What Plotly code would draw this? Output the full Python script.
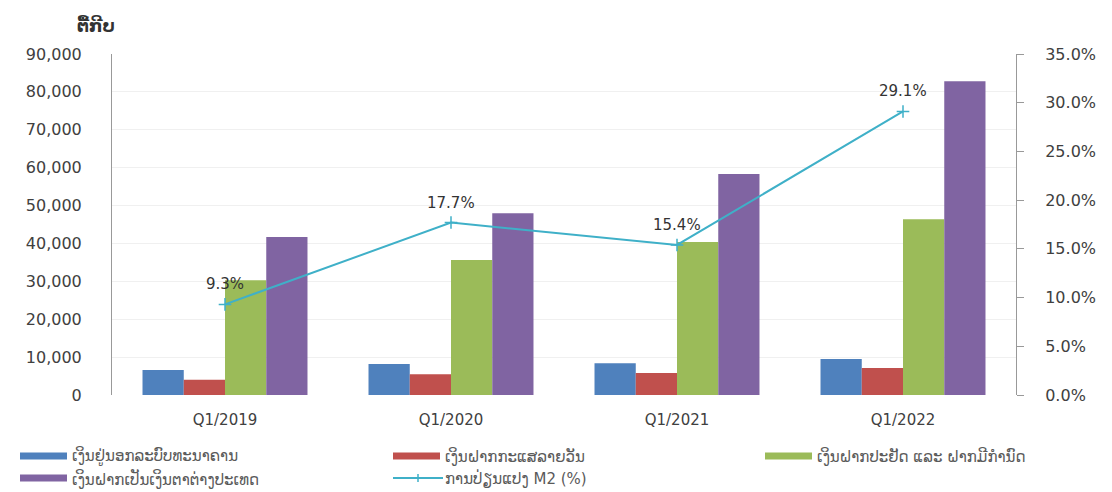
import plotly.graph_objects as go

categories = ["Q1/2019", "Q1/2020", "Q1/2021", "Q1/2022"]
currency_outside = [6600, 8200, 8400, 9500]
demand_deposits = [4000, 5500, 5800, 7100]
savings_time = [30300, 35600, 40400, 46400]
foreign_currency = [41700, 48000, 58300, 82800]
m2_growth = [9.3, 17.7, 15.4, 29.1]

names = [
    "ເງິນຢູ່ນອກລະບົບທະນາຄານ",
    "ເງິນຝາກກະແສລາຍວັນ",
    "ເງິນຝາກປະຢັດ ແລະ ຝາກມີກຳນົດ",
    "ເງິນຝາກເປັນເງິນຕາຕ່າງປະເທດ",
    "ການປ່ຽນແປງ M2 (%)",
]
colors = ["#4F81BD", "#C0504D", "#9BBB59", "#8064A2", "#3FB0C8"]
left_ticks = [0, 10000, 20000, 30000, 40000, 50000, 60000, 70000, 80000, 90000]
right_ticks = [0, 5, 10, 15, 20, 25, 30, 35]
unit_title = "ຕື້ກີບ"

FONT = "DejaVu Sans"
W, H = 1112, 492
ML, MR, MT, MB = 112, 96, 54, 97
PW, PH = W - ML - MR, H - MT - MB


def px_x(px):
    return (px - ML) / PW


def px_y(py):
    return (H - MB - py) / PH


fig = go.Figure()
for vals, name, col in zip([currency_outside, demand_deposits, savings_time, foreign_currency], names[:4], colors[:4]):
    fig.add_trace(go.Bar(x=categories, y=vals, name=name, marker=dict(color=col, line=dict(width=0)),
                         showlegend=False))

fig.add_trace(go.Scatter(
    x=categories, y=m2_growth, name=names[4], yaxis="y2", mode="lines+markers",
    line=dict(color=colors[4], width=2),
    marker=dict(symbol="cross-thin", size=9, line=dict(color=colors[4], width=1.5)),
    showlegend=False,
))

for c, v in zip(categories, m2_growth):
    fig.add_annotation(x=c, y=v, yref="y2", text=f"{v:.1f}%", showarrow=False,
                       yshift=20, font=dict(family=FONT, size=15, color="#333333"))

fig.add_annotation(xref="paper", yref="paper", x=px_x(75), y=px_y(13), text=f"<b>{unit_title}</b>",
                   showarrow=False, font=dict(family=FONT, size=17, color="#333333"))

# legend drawn as swatches + labels (two rows, three columns)
leg_pos = [(20, 456), (393, 456), (765, 456), (20, 478), (393, 478)]
shapes = []
for i, ((lx, ly), name, col) in enumerate(zip(leg_pos, names, colors)):
    if i < 4:
        shapes.append(dict(type="rect", xref="paper", yref="paper",
                           x0=px_x(lx), x1=px_x(lx + 47), y0=px_y(ly + 3.5), y1=px_y(ly - 3.5),
                           fillcolor=col, line=dict(width=0), layer="above"))
    else:
        shapes.append(dict(type="line", xref="paper", yref="paper",
                           x0=px_x(lx), x1=px_x(lx + 50), y0=px_y(ly), y1=px_y(ly),
                           line=dict(color=col, width=2)))
        shapes.append(dict(type="line", xref="paper", yref="paper",
                           x0=px_x(lx + 25), x1=px_x(lx + 25), y0=px_y(ly - 4), y1=px_y(ly + 4),
                           line=dict(color=col, width=1.5)))
    fig.add_annotation(xref="paper", yref="paper", x=px_x(lx + 50), y=px_y(ly), text=name,
                       xanchor="left", yanchor="middle", showarrow=False,
                       font=dict(family=FONT, size=15, color="#5a5a5a"))

fig.update_layout(
    width=W, height=H,
    margin=dict(l=ML, r=MR, t=MT, b=MB),
    paper_bgcolor="white", plot_bgcolor="white",
    barmode="group", bargap=0.27, bargroupgap=0,
    font=dict(family=FONT, size=15, color="#404040"),
    showlegend=False,
    shapes=shapes,
    xaxis=dict(showline=False, showgrid=False, ticks="", ticklabelstandoff=14,
               tickfont=dict(size=15, color="#404040")),
    yaxis=dict(range=[0, 90000], tickvals=left_ticks, ticktext=[f"{v:,}" for v in left_ticks],
               showline=True, linecolor="#999999", linewidth=1, ticks="", showgrid=True,
               gridcolor="#f0f0f0", zeroline=False, ticklabelstandoff=26,
               tickfont=dict(size=16, color="#404040")),
    yaxis2=dict(range=[0, 35], tickvals=right_ticks, ticktext=[f"{v:.1f}%" for v in right_ticks],
                overlaying="y", side="right", showline=True, linecolor="#999999", linewidth=1,
                ticks="outside", ticklen=7, tickcolor="#999999", showgrid=False, zeroline=False,
                ticklabelstandoff=18, tickfont=dict(size=16, color="#404040")),
)

fig.write_html("out.html", config={"displayModeBar": False},
               post_script="document.body.style.margin='0';document.body.style.overflow='hidden';")
